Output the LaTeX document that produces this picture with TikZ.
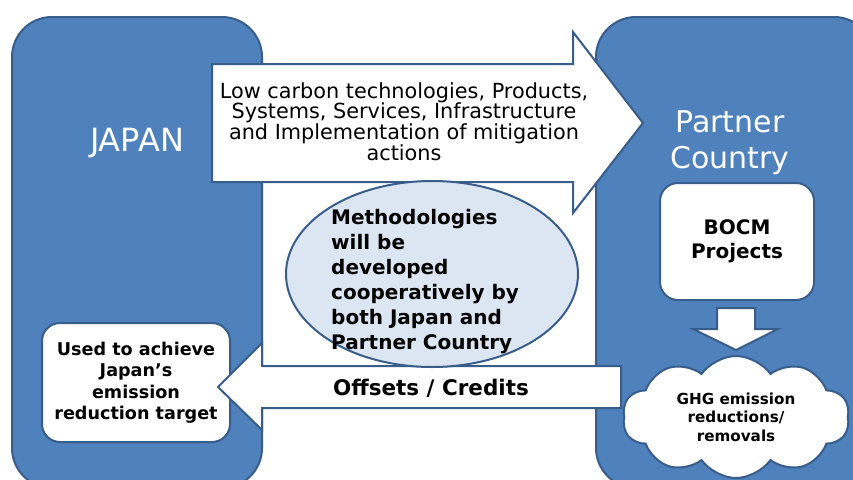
\documentclass[tikz,border=0pt]{standalone}
\usepackage{fontspec}
\setmainfont{DejaVu Sans}
\usepackage{tikz}
\usetikzlibrary{shapes.geometric}
\usetikzlibrary{shapes.symbols}
\definecolor{panelblue}{RGB}{79,129,189}
\definecolor{edgeblue}{RGB}{56,93,138}
\definecolor{paleblue}{RGB}{220,230,242}

\begin{document}
\begin{tikzpicture}[x=1pt,y=-1pt,
  panel/.style={draw=edgeblue,line width=2pt,fill=panelblue,rounded corners=40pt},
  flow/.style={draw=edgeblue,line width=2pt,fill=white},
  whitebox/.style={draw=edgeblue,line width=2pt,fill=white,rounded corners=18pt,align=center,inner sep=0pt},
  wtext/.style={text=white,inner sep=0pt},
  btext/.style={inner sep=0pt,font=\bfseries\fontsize{20}{25}\selectfont}]
\useasboundingbox (0,0) rectangle (853,479);
\clip (0,0) rectangle (853,479);
% two country panels
\draw[panel] (12,17) rectangle (262,488);
\draw[panel] (596,17) rectangle (874,488);
% boxes
\node[whitebox,font=\bfseries\fontsize{17.6}{21.5}\selectfont,minimum width=188pt,minimum height=119pt] (target) at (136,382.5) {Used to achieve\\Japan’s\\emission\\reduction target};
\node[whitebox,font=\bfseries\fontsize{20}{24}\selectfont,minimum width=154pt,minimum height=117pt] (bocm) at (737,241.5) {BOCM\\Projects};
% big arrows
\draw[flow] (212,64) -- (573,64) -- (573,32) -- (643,123) -- (573,213) -- (573,182) -- (212,182) -- cycle;
\draw[flow] (621,366) -- (262,366) -- (262,343) -- (218,387) -- (262,430) -- (262,408) -- (621,408) -- cycle;
\draw[flow] (717,308) -- (755,308) -- (755,329) -- (778,329) -- (736,350) -- (693,329) -- (717,329) -- cycle;
% ellipse in the middle
\node[ellipse,draw=edgeblue,line width=2pt,fill=paleblue,minimum width=292pt,minimum height=186pt] (method) at (432,274) {};
\node[btext,align=left,anchor=west] (methodtxt) at (331,281.5) {Methodologies\\will be\\developed\\cooperatively by\\both Japan and\\Partner Country};
% labels
\node[wtext,font=\fontsize{32}{38}\selectfont,anchor=base] (japan) at (137,151) {JAPAN};
\node[wtext,font=\fontsize{30}{36}\selectfont,align=center] (partner) at (730,142.5) {Partner\\Country};
\node[inner sep=0pt,font=\fontsize{20.8}{20.7}\selectfont,align=center] (techtxt) at (404,121.5) {Low carbon technologies, Products,\\Systems, Services, Infrastructure\\and Implementation of mitigation\\actions};
\node[btext,font=\bfseries\fontsize{21.5}{24}\selectfont,anchor=base] (credits) at (431,395) {Offsets / Credits};
\node[cloud,cloud puffs=10,cloud puff arc=110,cloud ignores aspect,draw=edgeblue,line width=2pt,fill=white,
  minimum width=227pt,minimum height=122pt,inner sep=0pt,align=center,font=\bfseries\fontsize{15.2}{18.5}\selectfont] (ghg) at (736,417) {GHG emission\\reductions/\\removals};
\end{tikzpicture}
\end{document}
